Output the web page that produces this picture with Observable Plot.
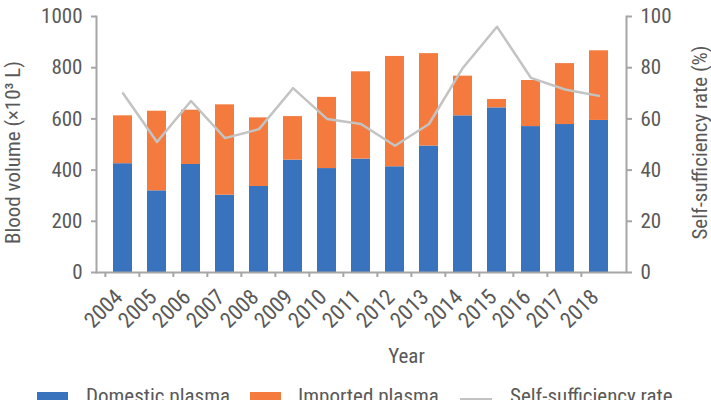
<!DOCTYPE html>
<html>
<head>
<meta charset="utf-8">
<script src="https://cdn.jsdelivr.net/npm/d3@7"></script>
<script src="https://cdn.jsdelivr.net/npm/@observablehq/plot@0.6"></script>
<style>
  html, body { margin: 0; padding: 0; background: #fff; overflow: hidden; }
  #wrap { position: relative; width: 711px; height: 400px; font-family: "Roboto Condensed", "Liberation Sans Narrow", "Arial Narrow", Roboto, sans-serif; color: #595959; }
  #legend { position: absolute; left: 0; top: 382px; width: 711px; height: 30px; font-size: 21px; }
  .sw { position: absolute; top: 10px; width: 31px; height: 20px; }
  .ln { position: absolute; top: 16px; width: 32px; height: 0; border-top: 2.5px solid #c3c3c3; }
  .lt { position: absolute; top: 4px; line-height: 21px; white-space: nowrap; }
</style>
</head>
<body>
<div id="wrap">
  <div id="chart"></div>
  <div id="legend"></div>
</div>
<script>
const years = ["2004","2005","2006","2007","2008","2009","2010","2011","2012","2013","2014","2015","2016","2017","2018"];
const domestic = [425, 319, 422, 302, 336, 439, 406, 443, 413, 494, 612, 643, 570, 578, 594];
const imported = [187, 311, 212, 353, 268, 170, 278, 341, 431, 361, 155, 33, 180, 238, 272];
const selfRate = [70, 51, 67, 52.5, 56, 72, 60, 58, 49.5, 58, 80, 96, 76, 71.5, 69];
const leftTicks = [0, 200, 400, 600, 800, 1000];
const rightTicks = [0, 20, 40, 60, 80, 100];
const seriesNames = ["Domestic plasma", "Imported plasma", "Self-sufficiency rate"];
const titles = {left: "Blood volume (×10³ L)", right: "Self-sufficiency rate (%)", x: "Year"};
const colors = ["#3a73bd", "#f47b3d", "#c3c3c3"];

const W = 711, H = 382;
const mL = 96, mR = 85, mT = 16, mB = 110;
const step = (W - mL - mR) / years.length;

const bars = [];
years.forEach((y, i) => {
  bars.push({year: y, series: seriesNames[0], value: domestic[i]});
  bars.push({year: y, series: seriesNames[1], value: imported[i]});
});
const line = years.map((y, i) => ({year: y, rate: selfRate[i]}));
const rightScale = 1000 / 100;

const axisColor = "#a6a6a6";
const textColor = "#595959";
const fontFam = getComputedStyle(document.getElementById("wrap")).fontFamily;

const chart = Plot.plot({
  width: W, height: H,
  marginLeft: mL, marginRight: mR, marginTop: mT, marginBottom: mB,
  style: {fontFamily: fontFam, fontSize: "21px", color: textColor, background: "#fff"},
  x: {domain: years, padding: 0.43, label: null},
  y: {domain: [0, 1000], label: null},
  color: {domain: seriesNames.slice(0, 2), range: colors.slice(0, 2)},
  marks: [
    Plot.barY(bars, {x: "year", y: "value", fill: "series", order: seriesNames.slice(0, 2)}),
    Plot.line(line, {x: "year", y: d => d.rate * rightScale, stroke: colors[2], strokeWidth: 2.5}),
    Plot.axisY({anchor: "left", ticks: leftTicks, tickFormat: d => String(d), tickSize: 5, tickPadding: 9,
      stroke: axisColor, strokeWidth: 2, color: textColor, label: null}),
    Plot.axisY({anchor: "right", ticks: rightTicks.map(d => d * rightScale), tickFormat: d => String(d / rightScale),
      tickSize: 5, tickPadding: 9, stroke: axisColor, strokeWidth: 2, color: textColor, label: null}),
    Plot.axisX({ticks: years, tickFormat: null, tickSize: 5, dx: -step / 2, stroke: axisColor, strokeWidth: 2, label: null}),
    Plot.axisX({ticks: years, tickSize: 0, tickRotate: -45, tickPadding: 21, dx: -4, fontSize: 22, color: textColor, label: null}),
    Plot.ruleY([0], {stroke: axisColor, strokeWidth: 2}),
    Plot.frame({anchor: "left", stroke: axisColor, strokeWidth: 2}),
    Plot.frame({anchor: "right", stroke: axisColor, strokeWidth: 2}),
    Plot.text([titles.x], {text: d => d, frameAnchor: "bottom", textAnchor: "middle", lineAnchor: "middle", dx: 45, dy: 84, fill: textColor, fontSize: 21}),
    Plot.text([titles.left], {text: d => d, frameAnchor: "left", textAnchor: "middle", lineAnchor: "middle", rotate: -90, dx: -83, dy: 8, fill: textColor, fontSize: 21}),
    Plot.text([titles.right], {text: d => d, frameAnchor: "right", textAnchor: "middle", lineAnchor: "middle", rotate: -90, dx: 74, dy: -2, fill: textColor, fontSize: 21})
  ]
});
document.getElementById("chart").appendChild(chart);

const legend = document.getElementById("legend");
const legendItems = [
  {kind: "sw", x: 37, tx: 86},
  {kind: "sw", x: 250, tx: 298},
  {kind: "ln", x: 460, tx: 510}
];
legendItems.forEach((it, i) => {
  const s = document.createElement("div");
  s.className = it.kind;
  s.style.left = it.x + "px";
  if (it.kind === "sw") s.style.background = colors[i];
  else s.style.borderTopColor = colors[i];
  legend.appendChild(s);
  const t = document.createElement("div");
  t.className = "lt";
  t.style.left = it.tx + "px";
  t.textContent = seriesNames[i];
  legend.appendChild(t);
});
</script>
</body>
</html>
